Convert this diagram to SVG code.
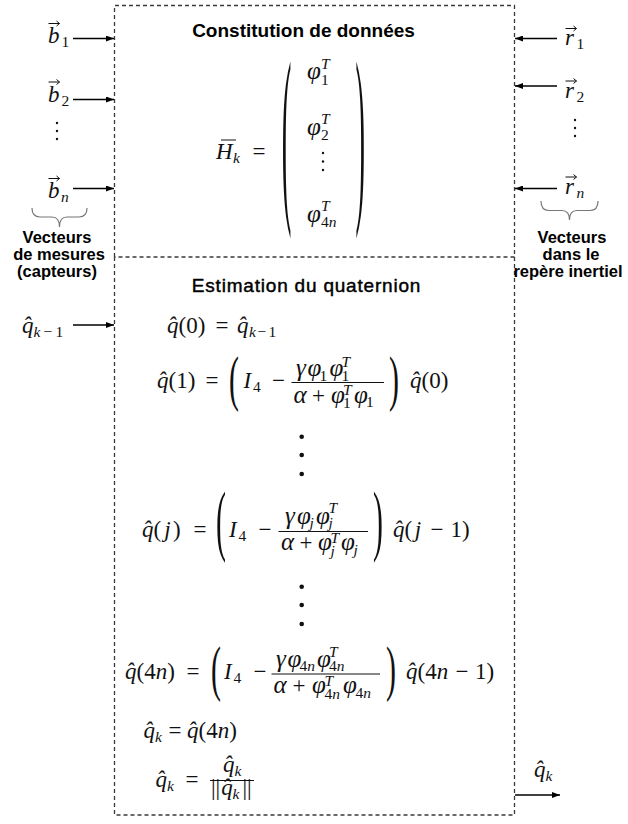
<svg xmlns="http://www.w3.org/2000/svg" width="628" height="824" viewBox="0 0 628 824">
<defs>
<marker id="ah" markerUnits="userSpaceOnUse" markerWidth="8" markerHeight="6" refX="8" refY="3" orient="auto"><path d="M0,0 L8,3 L0,6 z" fill="#000"/></marker>
<style>
.m{font-family:"Liberation Serif","Times New Roman",serif;font-size:23px;fill:#111}
.g{font-size:25px;font-style:italic}
.i{font-style:italic}
.s{font-size:15.5px}
.lbl{font-family:"Liberation Sans",Arial,sans-serif;font-weight:bold;font-size:16.5px;text-anchor:middle;fill:#000}
.ttl{font-family:"Liberation Sans",Arial,sans-serif;font-weight:bold;font-size:19px;text-anchor:middle;fill:#000}
.ttl2{font-family:"Liberation Sans",Arial,sans-serif;font-size:19px;letter-spacing:.8px;text-anchor:middle;fill:#000;stroke:#000;stroke-width:.45}
.dash{fill:none;stroke:#3a3a3a;stroke-width:1.3;stroke-dasharray:4 3}
.conn{stroke:#000;stroke-width:1.5;fill:none;marker-end:url(#ah)}
.brace{fill:none;stroke:#777;stroke-width:1.2}
.vec{fill:none;stroke:#111;stroke-width:1}
.bar{stroke:#111;stroke-width:1.1}
.dot{fill:#111}
</style>
</defs>
<rect width="628" height="824" fill="#fff"/>

<g id="panel-constitution">
<path class="dash" d="M114.5,257 V5.5 H514.5 V257 H114.5"/>
<text class="ttl" x="303.5" y="36.5">Constitution de données</text>
<line class="vec" x1="221" y1="140" x2="236" y2="140" stroke-width="1.2"/>
<text class="m"><tspan class="i" x="216" y="158.5">H</tspan><tspan class="s i" x="233" y="162.5">k</tspan><tspan x="252.5" y="158.5">=</tspan></text>
<text class="m" font-size="24" transform="translate(281.8,197) scale(1.25,8.45)">(</text>
<text class="m"><tspan class="g" x="307" y="79">φ</tspan><tspan class="s i" x="321" y="69">T</tspan><tspan class="s" x="321" y="84.5">1</tspan></text>
<text class="m"><tspan class="g" x="307" y="135">φ</tspan><tspan class="s i" x="321" y="124">T</tspan><tspan class="s" x="321" y="140">2</tspan></text>
<circle class="dot" cx="323" cy="153" r="1.2"/><circle class="dot" cx="323" cy="161.5" r="1.2"/><circle class="dot" cx="323" cy="170" r="1.2"/>
<text class="m"><tspan class="g" x="307" y="222">φ</tspan><tspan class="s i" x="321" y="211">T</tspan><tspan class="s" x="321" y="227">4</tspan><tspan class="s i">n</tspan></text>
<text class="m" font-size="24" transform="translate(355.5,197) scale(1.25,8.45)">)</text>
</g>

<g id="panel-estimation">
<path class="dash" d="M114.5,257 V815 H514.5 V257"/>
<text class="ttl2" x="306.5" y="291.5">Estimation du quaternion</text>
<!-- q(0) = q_{k-1} -->
<text class="m" y="333"><tspan class="i" x="167">q&#x302;</tspan>(0)<tspan x="215.5">=</tspan><tspan class="i" x="237">q&#x302;</tspan><tspan class="s i" x="249" y="337">k</tspan><tspan class="s" x="257.5">−</tspan><tspan class="s" x="268.5">1</tspan></text>
<!-- q(1) -->
<text class="m" y="388"><tspan class="i" x="157">q&#x302;</tspan>(1)<tspan x="205.5">=</tspan></text>
<text class="m" transform="translate(229,398.7) scale(1.3,2.7)">(</text>
<text class="m"><tspan class="i" x="243.5" y="388">I</tspan><tspan class="s" x="253" y="392">4</tspan><tspan x="272" y="388">−</tspan></text>
<line class="bar" x1="291.5" y1="382.5" x2="384" y2="382.5"/>
<text class="m"><tspan class="g" x="296" y="376">γ</tspan><tspan class="g" x="307.5">φ</tspan><tspan class="s" x="319.5" y="380.5">1</tspan><tspan class="g" x="329.5" y="376">φ</tspan><tspan class="s i" x="341.5" y="366.5">T</tspan><tspan class="s" x="341.5" y="380.5">1</tspan></text>
<text class="m"><tspan class="g" x="293.5" y="402.5">α</tspan><tspan x="312" y="402.5">+</tspan><tspan class="g" x="331" y="402.5">φ</tspan><tspan class="s i" x="343" y="395">T</tspan><tspan class="s" x="343" y="407.5">1</tspan><tspan class="g" x="354" y="402.5">φ</tspan><tspan class="s" x="366" y="407">1</tspan></text>
<text class="m" transform="translate(389,398.7) scale(1.3,2.7)">)</text>
<text class="m" x="410" y="388"><tspan class="i">q&#x302;</tspan>(0)</text>
<!-- dots -->
<circle class="dot" cx="301.7" cy="436.7" r="2.3"/><circle class="dot" cx="301.7" cy="455" r="2.3"/><circle class="dot" cx="301.7" cy="474" r="2.3"/>
<!-- q(j) -->
<text class="m" y="537"><tspan class="i" x="142">q&#x302;</tspan>(<tspan class="i" dx="3">j</tspan><tspan dx="2.5">)</tspan><tspan x="193.5">=</tspan></text>
<text class="m" transform="translate(216,546) scale(1.3,3.41)">(</text>
<text class="m"><tspan class="i" x="229" y="537">I</tspan><tspan class="s" x="238.5" y="541">4</tspan><tspan x="258.5" y="537">−</tspan></text>
<line class="bar" x1="278.5" y1="531.5" x2="368" y2="531.5"/>
<text class="m"><tspan class="g" x="285" y="524">γ</tspan><tspan class="g" x="297">φ</tspan><tspan class="s i" x="309.5" y="528">j</tspan><tspan class="g" x="316" y="524">φ</tspan><tspan class="s i" x="328.5" y="513">T</tspan><tspan class="s i" x="328.5" y="528">j</tspan></text>
<text class="m"><tspan class="g" x="281" y="550">α</tspan><tspan x="299.5" y="550">+</tspan><tspan class="g" x="318" y="550">φ</tspan><tspan class="s i" x="330.5" y="543">T</tspan><tspan class="s i" x="330.5" y="555.5">j</tspan><tspan class="g" x="341" y="550">φ</tspan><tspan class="s i" x="353.5" y="555">j</tspan></text>
<text class="m" transform="translate(373,546) scale(1.3,3.41)">)</text>
<text class="m" y="537"><tspan class="i" x="393">q&#x302;</tspan>(<tspan class="i" dx="2.5">j</tspan><tspan x="430.5">−</tspan><tspan x="450.5">1)</tspan></text>
<!-- dots -->
<circle class="dot" cx="301.7" cy="586.7" r="2.3"/><circle class="dot" cx="301.7" cy="605" r="2.3"/><circle class="dot" cx="301.7" cy="624" r="2.3"/>
<!-- q(4n) -->
<text class="m" y="679"><tspan class="i" x="125">q&#x302;</tspan>(4<tspan class="i">n</tspan>)<tspan x="186.5">=</tspan></text>
<text class="m" transform="translate(211,689) scale(1.3,2.7)">(</text>
<text class="m"><tspan class="i" x="224" y="679">I</tspan><tspan class="s" x="233.5" y="683">4</tspan><tspan x="253.5" y="679">−</tspan></text>
<line class="bar" x1="271.5" y1="674" x2="380" y2="674"/>
<text class="m"><tspan class="g" x="276" y="667">γ</tspan><tspan class="g" x="287.5">φ</tspan><tspan class="s" x="299.5" y="671">4</tspan><tspan class="s i">n</tspan><tspan class="g" x="317" y="667">φ</tspan><tspan class="s i" x="329" y="656.5">T</tspan><tspan class="s" x="329" y="671">4</tspan><tspan class="s i">n</tspan></text>
<text class="m"><tspan class="g" x="273.5" y="693">α</tspan><tspan x="292.5" y="693">+</tspan><tspan class="g" x="312" y="693">φ</tspan><tspan class="s i" x="324.5" y="686">T</tspan><tspan class="s" x="324.5" y="698.5">4</tspan><tspan class="s i">n</tspan><tspan class="g" x="343" y="693">φ</tspan><tspan class="s" x="355.5" y="698">4</tspan><tspan class="s i">n</tspan></text>
<text class="m" transform="translate(386,689) scale(1.3,2.7)">)</text>
<text class="m" y="679"><tspan class="i" x="406">q&#x302;</tspan>(4<tspan class="i">n</tspan><tspan x="455.5">−</tspan><tspan x="475">1)</tspan></text>
<!-- q_k = q(4n) -->
<text class="m" y="738"><tspan class="i" x="143.5">q&#x302;</tspan><tspan class="s i" x="155" y="742">k</tspan><tspan x="168.5" y="738">=</tspan><tspan class="i" x="187">q&#x302;</tspan>(4<tspan class="i">n</tspan>)</text>
<!-- q_k = q_k / ||q_k|| -->
<text class="m" y="787"><tspan class="i" x="155.5">q&#x302;</tspan><tspan class="s i" x="167" y="791">k</tspan><tspan x="185.5" y="787">=</tspan></text>
<line class="bar" x1="210" y1="780.5" x2="254" y2="780.5"/>
<text class="m" y="772"><tspan class="i" x="223">q&#x302;</tspan><tspan class="s i" x="234.5" y="776">k</tspan></text>
<text class="m" y="795"><tspan x="211">||</tspan><tspan class="i" dx="1">q&#x302;</tspan><tspan class="s i" x="232.5" y="799">k</tspan><tspan x="242.5" y="795">||</tspan></text>
</g>

<g id="inputs-b">
<path class="vec" d="M48.5,23.5h11 M56.5,21l3,2.5l-3,2.5"/>
<text class="m"><tspan class="i" x="48" y="43">b</tspan><tspan class="s" x="61.5" y="47">1</tspan></text>
<path class="vec" d="M48.5,82h11 M56.5,79.5l3,2.5l-3,2.5"/>
<text class="m"><tspan class="i" x="48" y="101.5">b</tspan><tspan class="s" x="61.5" y="105.5">2</tspan></text>
<circle class="dot" cx="57" cy="123" r="1.2"/><circle class="dot" cx="57" cy="131" r="1.2"/><circle class="dot" cx="57" cy="139" r="1.2"/>
<path class="vec" d="M48.5,178.5h11 M56.5,176l3,2.5l-3,2.5"/>
<text class="m"><tspan class="i" x="48" y="198">b</tspan><tspan class="s i" x="61" y="202">n</tspan></text>
</g>

<g id="label-mesures">
<path class="brace" d="M32,208 Q32,217 40,217 L52,217 Q59.5,217 59.5,227 Q59.5,217 67,217 L79,217 Q87,217 87,208"/>
<text class="lbl" x="57" y="243">Vecteurs</text>
<text class="lbl" x="59" y="260">de mesures</text>
<text class="lbl" x="57" y="277">(capteurs)</text>
</g>

<g id="inputs-r">
<path class="vec" d="M565.5,28.5h11 M573.5,26l3,2.5l-3,2.5"/>
<text class="m"><tspan class="i" x="565" y="45">r</tspan><tspan class="s" x="576.5" y="49">1</tspan></text>
<path class="vec" d="M565.5,81h11 M573.5,78.5l3,2.5l-3,2.5"/>
<text class="m"><tspan class="i" x="565" y="97.5">r</tspan><tspan class="s" x="576.5" y="101.5">2</tspan></text>
<circle class="dot" cx="575" cy="120" r="1.2"/><circle class="dot" cx="575" cy="128" r="1.2"/><circle class="dot" cx="575" cy="136" r="1.2"/>
<path class="vec" d="M565.5,177h11 M573.5,174.5l3,2.5l-3,2.5"/>
<text class="m"><tspan class="i" x="565" y="193.5">r</tspan><tspan class="s i" x="576.5" y="197.5">n</tspan></text>
</g>

<g id="label-inertiel">
<path class="brace" d="M541,201 Q541,210.5 549,210.5 L562,210.5 Q569.5,210.5 569.5,220 Q569.5,210.5 577,210.5 L590,210.5 Q598,210.5 598,201"/>
<text class="lbl" x="572" y="243">Vecteurs</text>
<text class="lbl" x="571" y="260">dans le</text>
<text class="lbl" x="568" y="277">repère inertiel</text>
</g>

<g id="input-qk1">
<text class="m"><tspan class="i" x="22" y="332.5">q&#x302;</tspan><tspan class="s i" x="33.5" y="336.5">k</tspan><tspan class="s" x="43.5">−</tspan><tspan class="s" x="55.5">1</tspan></text>
</g>

<g id="output-qk">
<text class="m"><tspan class="i" x="534" y="777">q&#x302;</tspan><tspan class="s i" x="545.5" y="781">k</tspan></text>
</g>

<g id="connectors">
<line class="conn" x1="73" y1="38.5" x2="114" y2="38.5"/>
<line class="conn" x1="73" y1="99.5" x2="114" y2="99.5"/>
<line class="conn" x1="73" y1="188.5" x2="114" y2="188.5"/>
<line class="conn" x1="557" y1="38.5" x2="515" y2="38.5"/>
<line class="conn" x1="557" y1="86" x2="515" y2="86"/>
<line class="conn" x1="557" y1="188.5" x2="515" y2="188.5"/>
<line class="conn" x1="73" y1="325" x2="114" y2="325"/>
<line class="conn" x1="515" y1="795" x2="560" y2="795"/>
</g>
</svg>
